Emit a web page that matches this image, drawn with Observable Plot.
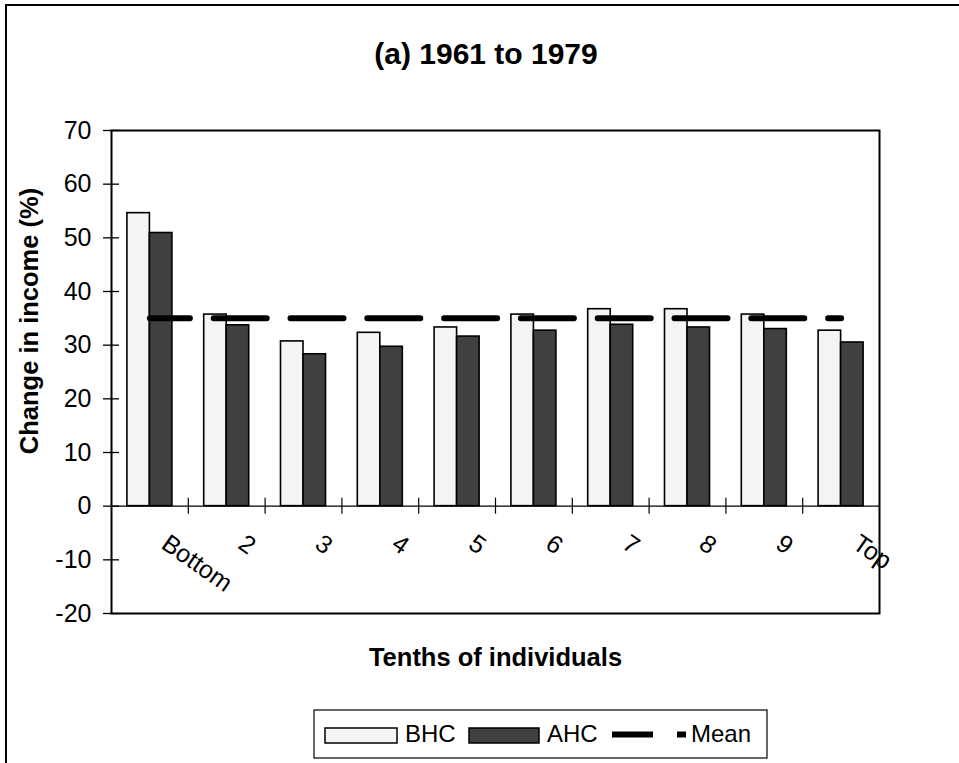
<!DOCTYPE html>
<html>
<head>
<meta charset="utf-8">
<script src="https://cdn.jsdelivr.net/npm/d3@7"></script>
<script src="https://cdn.jsdelivr.net/npm/@observablehq/plot@0.6"></script>
<style>
  html, body { margin: 0; padding: 0; background: #fff; }
  #wrap { position: relative; width: 959px; height: 763px; overflow: hidden; font-family: Arial, "Liberation Sans", sans-serif; }
  #outer { position: absolute; left: 5px; top: 4px; width: 1000px; height: 1000px; border-left: 2.5px solid #000; border-top: 2px solid #000; }
  #chart, #legend { position: absolute; left: 0; top: 0; }
</style>
</head>
<body>
<div id="wrap">
  <div id="outer"></div>
  <div id="chart"></div>
  <div id="legend"></div>
</div>
<script>
// ---- data ----
const categories = ["Bottom", "2", "3", "4", "5", "6", "7", "8", "9", "Top"];
const bhc = [54.6, 35.7, 30.7, 32.3, 33.3, 35.7, 36.7, 36.7, 35.7, 32.7];
const ahc = [50.9, 33.7, 28.3, 29.7, 31.6, 32.7, 33.8, 33.3, 33.0, 30.5];
const meanValue = 35;
const yTicks = [-20, -10, 0, 10, 20, 30, 40, 50, 60, 70];
const seriesNames = ["BHC", "AHC", "Mean"];
const titleText = "(a) 1961 to 1979";
const xTitle = "Tenths of individuals";
const yTitle = "Change in income (%)";

// ---- layout ----
const W = 959, H = 763;
const mt = 130, mb = 150, ml = 111, mr = 80;
const plotW = W - ml - mr, plotH = H - mt - mb;
const catPx = plotW / categories.length;
const half = 22.5 / catPx;
const zeroY = plotH * (yTicks[yTicks.length - 1] - 0) / (yTicks[yTicks.length - 1] - yTicks[0]);
const font = 'Arial, "Liberation Sans", sans-serif';
const colors = {BHC: "#f4f4f4", AHC: "#404040"};

const rows = categories.flatMap((c, i) => [
  {cat: c, idx: i + 1, series: "BHC", value: bhc[i]},
  {cat: c, idx: i + 1, series: "AHC", value: ahc[i]}
]);
const bounds = categories.slice(1).map((c, i) => i + 1.5);

const chart = Plot.plot({
  width: W, height: H,
  marginTop: mt, marginBottom: mb, marginLeft: ml, marginRight: mr,
  style: {fontFamily: font, fontSize: "25px", color: "#000", background: "transparent", overflow: "visible"},
  x: {type: "linear", domain: [0.5, categories.length + 0.5], axis: null},
  y: {domain: [yTicks[0], yTicks[yTicks.length - 1]], axis: null},
  marks: [
    Plot.rectY(rows, {
      x1: d => d.series === "BHC" ? d.idx - half : d.idx,
      x2: d => d.series === "BHC" ? d.idx : d.idx + half,
      y1: () => 0, y2: "value",
      fill: d => colors[d.series], stroke: "#000", strokeWidth: 1.6
    }),
    Plot.ruleY([0], {stroke: "#000", strokeWidth: 1.4}),
    Plot.ruleX(bounds, {x: d => d, insetTop: zeroY - 8, insetBottom: plotH - zeroY - 8, stroke: "#000", strokeWidth: 1.2}),
    Plot.lineY(categories, {
      x: (d, i) => i + 1, y: () => meanValue,
      stroke: "#000", strokeWidth: 6,
      strokeDasharray: `53,${catPx - 53}`, strokeDashoffset: 13
    }),
    Plot.frame({stroke: "#000", strokeWidth: 2}),
    Plot.ruleY(yTicks, {y: d => d, insetRight: plotW - 16, dx: -8, stroke: "#000", strokeWidth: 1.3}),
    Plot.text(yTicks, {y: d => d, text: d => String(d), frameAnchor: "left", textAnchor: "end", dx: -20, fontSize: 25, fill: "#000"}),
    Plot.text(categories, {
      x: (d, i) => i + 1, y: () => 0, text: d => d,
      rotate: 35, textAnchor: "start", lineAnchor: "bottom",
      dx: 10, dy: 41, fontSize: 25, fill: "#000"
    }),
    Plot.text([titleText], {text: d => d, frameAnchor: "top", textAnchor: "middle", lineAnchor: "bottom", dx: -9.5, dy: -67, fontSize: 30, fontWeight: "bold", fill: "#000"}),
    Plot.text([xTitle], {text: d => d, frameAnchor: "bottom", textAnchor: "middle", lineAnchor: "bottom", dy: 52, fontSize: 25.5, fontWeight: "bold", fill: "#000"}),
    Plot.text([yTitle], {text: d => d, frameAnchor: "left", textAnchor: "middle", lineAnchor: "bottom", rotate: -90, dx: -74, dy: -51, fontSize: 25.5, fontWeight: "bold", fill: "#000"})
  ]
});
document.getElementById("chart").appendChild(chart);

// ---- legend ----
const lg = d3.select("#legend").append("svg")
  .attr("width", W).attr("height", H)
  .style("font-family", font);
lg.append("rect").attr("x", 314).attr("y", 710).attr("width", 453).attr("height", 48)
  .attr("fill", "#fff").attr("stroke", "#000").attr("stroke-width", 1.2);
lg.append("rect").attr("x", 325).attr("y", 728).attr("width", 72).attr("height", 15)
  .attr("fill", colors.BHC).attr("stroke", "#000").attr("stroke-width", 1.5);
lg.append("text").attr("x", 405).attr("y", 741.5).attr("font-size", 24).text(seriesNames[0]);
lg.append("rect").attr("x", 469).attr("y", 728).attr("width", 70).attr("height", 15)
  .attr("fill", colors.AHC).attr("stroke", "#000").attr("stroke-width", 1.5);
lg.append("text").attr("x", 547).attr("y", 741.5).attr("font-size", 24).text(seriesNames[1]);
lg.append("line").attr("x1", 612).attr("x2", 686).attr("y1", 734.5).attr("y2", 734.5)
  .attr("stroke", "#000").attr("stroke-width", 6).attr("stroke-dasharray", "41,24,9,100");
lg.append("text").attr("x", 691).attr("y", 741.5).attr("font-size", 24).text(seriesNames[2]);
</script>
</body>
</html>
